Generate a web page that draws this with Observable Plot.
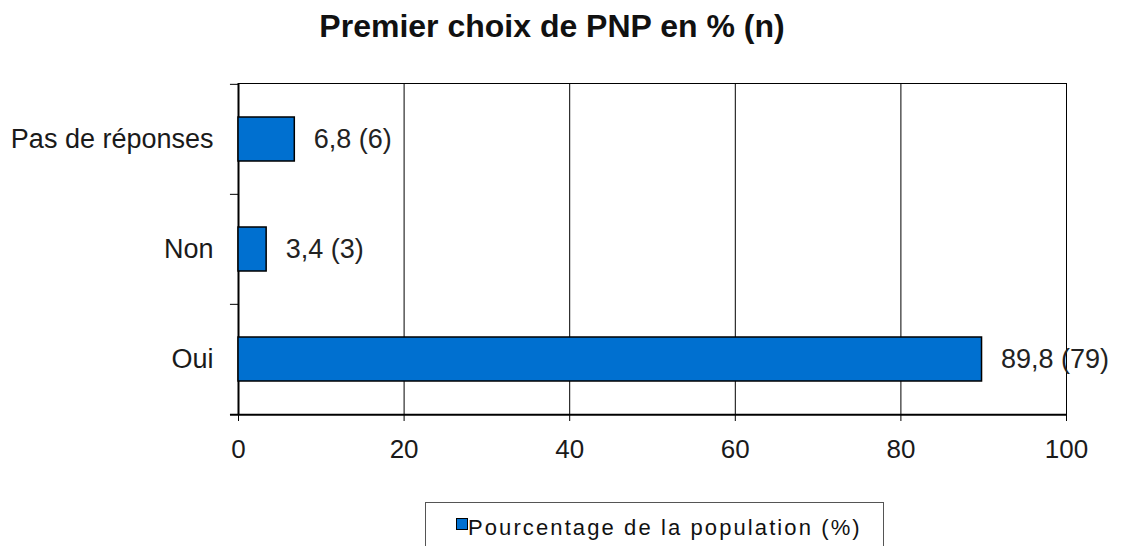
<!DOCTYPE html>
<html>
<head>
<meta charset="utf-8">
<script src="https://cdn.jsdelivr.net/npm/d3@7"></script>
<script src="https://cdn.jsdelivr.net/npm/@observablehq/plot@0.6"></script>
<style>
  html, body { margin: 0; padding: 0; background: #fff; }
  body { width: 1124px; height: 546px; overflow: hidden; position: relative; font-family: "Liberation Sans", Arial, sans-serif; }
  #title { position: absolute; left: 0; top: 8px; width: 1104px; text-align: center; font-weight: bold; font-size: 32px; color: #111; }
  #chart { position: absolute; left: 0; top: 60px; }
  #legend { position: absolute; left: 425px; top: 502px; width: 459px; height: 55px; border: 1px solid #555; box-sizing: border-box; }
  #legend .sw { position: absolute; left: 30px; top: 15px; width: 10px; height: 10px; background: #0070d0; border: 1px solid #000; }
  #legend .lab { position: absolute; left: 42px; top: 12px; font-size: 22px; letter-spacing: 2.1px; color: #111; white-space: nowrap; }
</style>
</head>
<body>
<div id="title">Premier choix de PNP en % (n)</div>
<div id="chart"></div>
<div id="legend"><div class="sw"></div><div class="lab">Pourcentage de la population (%)</div></div>
<script>
const categories = ["Pas de réponses", "Non", "Oui"];
const percents = [6.8, 3.4, 89.8];
const counts = [6, 3, 79];
const xTicks = [0, 20, 40, 60, 80, 100];
const seriesName = "Pourcentage de la population (%)";

const data = categories.map((c, i) => ({cat: c, pct: percents[i], n: counts[i]}));
const fmt = v => String(v).replace(".", ",");

const W = 1124, H = 430, mt = 23, mb = 76, ml = 238, mr = 58;
const step = (H - mt - mb) / categories.length;

const chart = Plot.plot({
  width: W, height: H,
  marginTop: mt, marginBottom: mb, marginLeft: ml, marginRight: mr,
  style: {fontFamily: "'Liberation Sans', Arial, sans-serif", fontSize: "26px", color: "#1a1a1a", background: "#fff", overflow: "visible"},
  x: {domain: [0, 100], ticks: xTicks, label: null},
  y: {domain: categories, paddingInner: 0.6, paddingOuter: 0.3, label: null},
  marks: [
    Plot.gridX(xTicks.slice(1, -1), {stroke: "#000", strokeOpacity: 1, strokeWidth: 1}),
    Plot.frame({stroke: "#000", strokeWidth: 1}),
    Plot.axisX({ticks: xTicks, tickSize: 7, tickPadding: 18, fontSize: 26, stroke: "#000", label: null}),
    Plot.axisY({tickSize: 0, tickPadding: 25, fontSize: 27, label: null}),
    // category boundary ticks on the left axis
    Plot.ruleY(categories, {y: d => d, x1: -0.97, x2: 0, dy: -step / 2, stroke: "#000", strokeWidth: 1}),
    Plot.ruleY(categories.slice(-1), {y: d => d, x1: -0.97, x2: 100, dy: step / 2, stroke: "#000", strokeWidth: 2}),
    Plot.ruleX([0], {stroke: "#000", strokeWidth: 2}),
    Plot.barX(data, {y: "cat", x: "pct", fill: "#0070d0", stroke: "#000", strokeWidth: 1.5}),
    Plot.text(data, {y: "cat", x: "pct", text: d => `${fmt(d.pct)} (${d.n})`, textAnchor: "start", dx: 19, fontSize: 27, fill: "#222"})
  ]
});
document.getElementById("chart").appendChild(chart);
</script>
</body>
</html>
